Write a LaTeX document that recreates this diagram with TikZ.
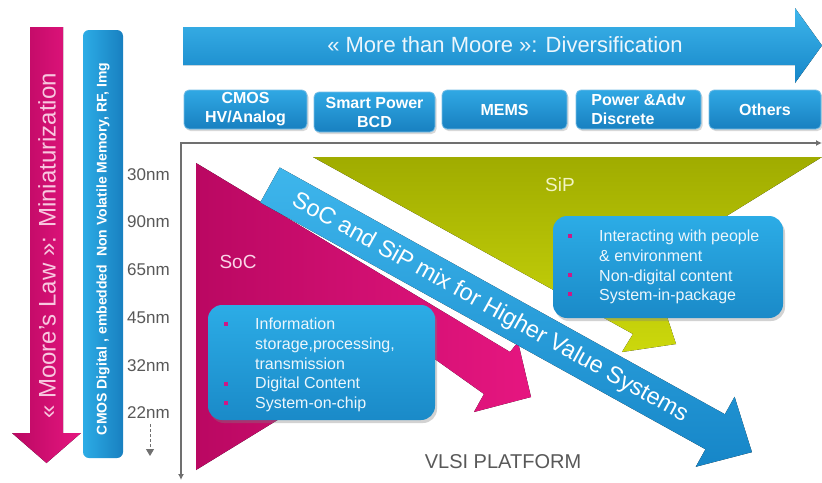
\documentclass[tikz,border=0pt]{standalone}
\usepackage{fontspec}
\setmainfont{Liberation Sans}
\usetikzlibrary{arrows.meta,positioning,calc,shadows}

\definecolor{techTop}{RGB}{48,168,228}
\definecolor{techBot}{RGB}{24,128,192}
\definecolor{techEdge}{RGB}{120,190,230}
\definecolor{infoTop}{RGB}{44,172,230}
\definecolor{infoBot}{RGB}{26,138,200}
\definecolor{arrowTop}{RGB}{62,182,236}
\definecolor{arrowBot}{RGB}{22,134,200}
\definecolor{socMag}{RGB}{230,22,128}
\definecolor{socMagDark}{RGB}{186,8,98}
\definecolor{sipTop}{RGB}{160,172,0}
\definecolor{sipBot}{RGB}{204,216,12}
\definecolor{axisGray}{RGB}{112,112,112}
\definecolor{labelGray}{RGB}{88,88,88}
\definecolor{mooreText}{RGB}{248,200,224}
\definecolor{arrowText}{RGB}{236,246,252}
\definecolor{infoText}{RGB}{236,246,252}
\definecolor{socLabel}{RGB}{250,214,232}
\definecolor{sipLabel}{RGB}{242,244,196}
\definecolor{bulletMag}{RGB}{205,25,135}

\newcommand{\fsz}[2]{\fontsize{#1}{#2}\selectfont}

\tikzset{
  techbox/.style={rounded corners=5pt, top color=techTop, bottom color=techBot,
    draw=techEdge, line width=0.8pt, text=white, font=\bfseries\fsz{16}{19},
    align=center, inner sep=0pt,
    drop shadow={opacity=0.3, shadow xshift=1.5pt, shadow yshift=-2pt}},
  infobox/.style={rounded corners=14pt, top color=infoTop, bottom color=infoBot,
    draw=none, drop shadow={opacity=0.35, shadow xshift=2pt, shadow yshift=-3pt}},
  infotext/.style={anchor=north west, align=left, inner sep=0pt,
    text=infoText, font=\fsz{16}{19.7}},
  bulletsq/.style={fill=bulletMag, minimum size=4pt, inner sep=0pt},
  nmlabel/.style={anchor=west, text=labelGray, font=\fsz{17}{20}, inner sep=0pt},
}

\begin{document}
\begin{tikzpicture}[x=1pt,y=-1pt]
\useasboundingbox (0,0) rectangle (822,482);
\fill[white] (0,0) rectangle (822,482);

% Moore's law arrow
\fill[left color=socMagDark, right color=socMag] (30,27) -- (63,27) -- (63,433) -- (81,433) -- (46.5,463) -- (12,433) -- (30,433) -- cycle;
\node[rotate=90, text=mooreText, font=\fsz{24}{28}] (moore) at (47,246) {« Moore's Law »: Miniaturization};

% technology bar
\node[rounded corners=6pt, left color=infoTop, right color=techBot, minimum width=40pt, minimum height=428pt] (cmosbar) at (103,244) {};
\node[rotate=90, text=white, font=\bfseries\fsz{14}{16}] (cmostext) at ([yshift=-5pt]cmosbar.center) {CMOS Digital , embedded \ Non Volatile Memory, RF, Img};

% nodes
\foreach \nm/\y in {30/175,90/222,65/270,45/318,32/366,22/413}
  \node[nmlabel] (nm\nm) at (127,\y) {\nm nm};
\coordinate (nmend) at (150,456);
\draw[axisGray, line width=1pt, dash pattern=on 3pt off 2pt, -{Triangle[length=7pt,width=8pt]}] ($(nm22.south -| nmend)+(0,5)$) -- (nmend);

% more than Moore arrow
\fill[top color=arrowTop, bottom color=arrowBot] (183,27) -- (795,27) -- (795,8) -- (822,45.5) -- (795,83) -- (795,65) -- (183,65) -- cycle;
\node[text=arrowText, font=\fsz{22}{26}] (mtm) at (505,45) {« More than Moore »: Diversification};

% diversification boxes
\node[techbox, minimum width=123pt, minimum height=39pt] (cmos) at (245.5,109.5) {CMOS\\HV/Analog};
\node[techbox, minimum width=121pt, minimum height=40pt] (smart) at (374.5,112) {Smart Power\\BCD};
\node[techbox, minimum width=125pt, minimum height=39pt] (mems) at (504.5,109.5) {MEMS};
\node[techbox, minimum width=125pt, minimum height=39pt, align=left] (power) at (638.5,109.5) {Power \&Adv\\Discrete};
\node[techbox, minimum width=112pt, minimum height=39pt] (others) at (765,109.5) {Others};

% axes
\coordinate (origin) at (181,143);
\coordinate (xend) at (822,143);
\coordinate (yend) at (181,480);
\draw[axisGray, line width=1.6pt, {Latex[length=6pt,width=6pt]}-{Latex[length=6pt,width=6pt]}] (xend) -- (origin) -- (yend);

% SoC and SiP shapes
\fill[left color=socMagDark, right color=socMag] (196,163) -- (510,352) -- (518,342) -- (531,397) -- (474,412) -- (484,394) -- (408,340) -- (196,470) -- cycle;
\fill[top color=sipTop, bottom color=sipBot] (313,157) -- (822,157) -- (712,225) -- (658,289) -- (676,344) -- (622,352) -- (633,334) -- cycle;

% mix band
\begin{scope}[shift={(270,185)}, rotate=-29]
\fill[top color=arrowTop, bottom color=arrowBot] (0,-20) -- (509,-20) -- (509,-40) -- (551,0) -- (509,40) -- (509,20) -- (0,20) -- cycle;
\node[rotate=-29, text=white, font=\fsz{23.5}{28}] (mix) at (252,1) {SoC and SiP mix for Higher Value Systems};
\end{scope}

% labels
\node[text=socLabel, font=\fsz{19}{22}] (soclabel) at (238,262) {SoC};
\node[text=sipLabel, font=\fsz{19}{22}] (siplabel) at (560,185) {SiP};
\node[text=labelGray, font=\fsz{20}{24}] (vlsi) at (503,462) {VLSI PLATFORM};

% info boxes
\node[infobox, minimum width=227pt, minimum height=115pt] (socbox) at (321.5,362.5) {};
\node[infotext] (soctext) at (255,318) {Information\\storage,processing,\\transmission\\Digital Content\\System-on-chip};
\foreach \y [count=\i] in {324,384,403}
  \node[bulletsq] (socb\i) at (226,\y) {};

\node[infobox, minimum width=230pt, minimum height=102pt] (sipbox) at (668,267) {};
\node[infotext] (siptext) at (599,230) {Interacting with people\\\& environment\\Non-digital content\\System-in-package};
\foreach \y [count=\i] in {236,275,294}
  \node[bulletsq] (sipb\i) at (570,\y) {};
\end{tikzpicture}
\end{document}
